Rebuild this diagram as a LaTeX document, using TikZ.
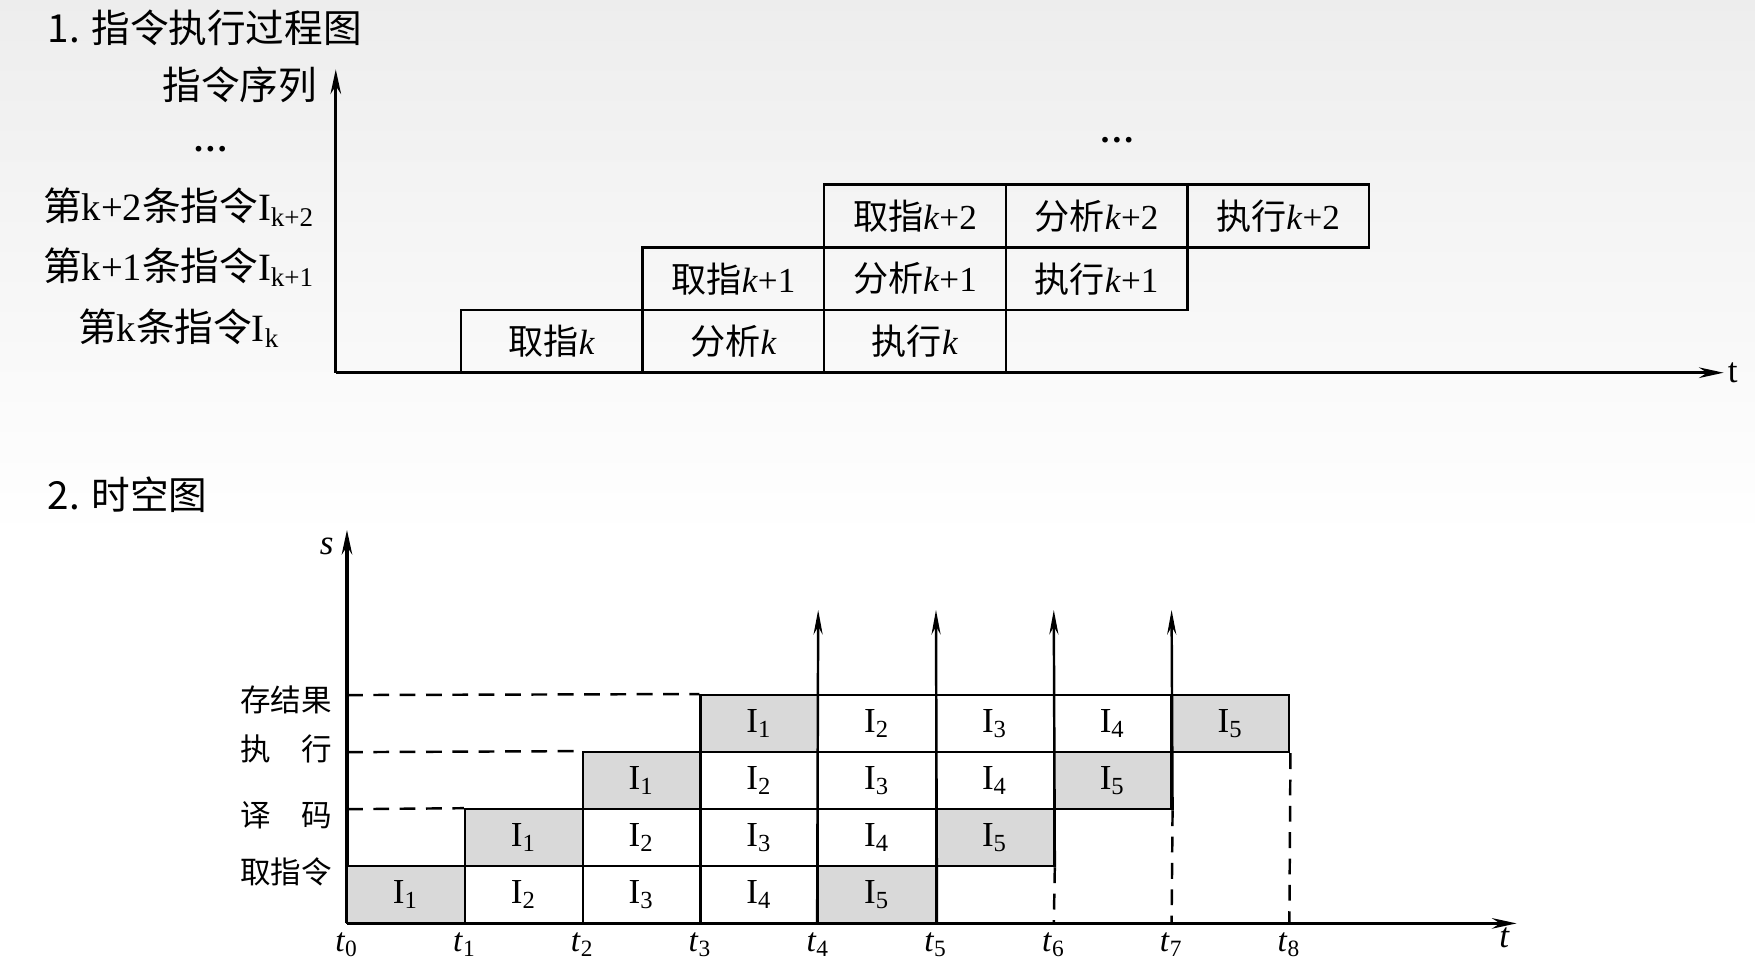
\documentclass[tikz,border=0pt]{standalone}
\usepackage{fontspec}
\setmainfont{Liberation Serif}
\newfontfamily\cjk{Noto Sans CJK SC}
\usetikzlibrary{arrows.meta}

\begin{document}
\begin{tikzpicture}[x=0.011193cm, y=-0.011193cm,
    upcell/.style={draw, line width=0.7pt, minimum width=1.816cm, minimum height=0.627cm, inner sep=0pt, font=\fontsize{10}{12}\selectfont},
    stcell/.style={draw, line width=0.6pt, minimum width=1.178cm, minimum height=0.571cm, inner sep=0pt, font=\fontsize{10}{12}\selectfont},
    busy/.style={stcell, fill=black!15},
    axisline/.style={line width=0.9pt, -{Stealth[length=7pt,width=3pt]}},
    upline/.style={line width=0.7pt, -{Stealth[length=7pt,width=2.6pt]}},
    guide/.style={line width=0.7pt, dash pattern=on 4.5pt off 3pt},
    headline/.style={font=\cjk\fontsize{11}{13}\selectfont, anchor=west, inner sep=0pt},
    rowlabel/.style={font=\fontsize{11}{13}\selectfont, anchor=base},
    stagelabel/.style={font=\cjk\fontsize{8.7}{10}\selectfont, anchor=east, inner sep=0pt},
    tlabel/.style={below=2pt, inner sep=0.5pt, font=\fontsize{9.5}{11}\selectfont},
    moredots/.style={font=\bfseries\fontsize{10}{12}\selectfont, anchor=base}]

    % background
    \fill[white] (0,0) rectangle (1568,859.5);
    \fill[top color=black!7, bottom color=white] (0,0) rectangle (1568,480);
    \useasboundingbox (0,0) rectangle (1568,859.5);

    % 1. instruction execution
    \node[headline] (head1) at (42,25) {1. 指令执行过程图};

    \coordinate (yo) at (300,333);
    \coordinate (ytop) at (300,62);
    \coordinate (xend) at (1540,333);
    \draw[axisline] (yo) -- (ytop);
    \draw[axisline] (yo) -- (xend);
    \node[anchor=west, inner sep=1pt] (tup) at (xend) {t};
    \node[font=\cjk\fontsize{11}{13}\selectfont, anchor=east, inner sep=0pt] (seq) at (284,76) {指令序列};

    \node[moredots] (dotsl) at (188,135) {…};
    \node[moredots] (dotsr) at (998,127) {…};

    \node[rowlabel] (ins2) at (160,197) {{\cjk 第}k+2{\cjk 条指令}I\textsubscript{k+2}};
    \node[rowlabel] (ins1) at (160,251) {{\cjk 第}k+1{\cjk 条指令}I\textsubscript{k+1}};
    \node[rowlabel] (ins0) at (160,305) {{\cjk 第}k{\cjk 条指令}I\textsubscript{k}};

    \node[upcell] (f0) at (493.1,305) {{\cjk 取指}\textit{k}};
    \node[upcell] (a0) at (655.3,305) {{\cjk 分析}\textit{k}};
    \node[upcell] (e0) at (817.5,305) {{\cjk 执行}\textit{k}};
    \node[upcell] (f1) at (655.3,249) {{\cjk 取指}\textit{k}+1};
    \node[upcell] (a1) at (817.5,249) {{\cjk 分析}\textit{k}+1};
    \node[upcell] (e1) at (979.7,249) {{\cjk 执行}\textit{k}+1};
    \node[upcell] (f2) at (817.5,193) {{\cjk 取指}\textit{k}+2};
    \node[upcell] (a2) at (979.7,193) {{\cjk 分析}\textit{k}+2};
    \node[upcell] (e2) at (1141.9,193) {{\cjk 执行}\textit{k}+2};

    % 2. space-time diagram
    \node[headline] (head2) at (42,442) {2. 时空图};

    \coordinate (so) at (310,825);
    \coordinate (stop) at (310,473.5);
    \coordinate (tend) at (1355,825);
    \draw[axisline] (so) -- (stop);
    \draw[axisline] (so) -- (tend);
    \node[anchor=east, font=\itshape\fontsize{10}{12}\selectfont, inner sep=2pt] (slab) at (305,488) {s};
    \node[font=\itshape\fontsize{10}{12}\selectfont] (tlow) at (1344,838) {t};

    \node[stagelabel] (wb) at (297,625) {存结果};
    \node[stagelabel] (ex) at (297,669) {执\quad 行};
    \node[stagelabel] (id) at (297,728) {译\quad 码};
    \node[stagelabel] (if) at (297,779) {取指令};

    \node[busy]   (if1) at (362.6,799.5) {I\textsubscript{1}};
    \node[stcell] (if2) at (467.9,799.5) {I\textsubscript{2}};
    \node[stcell] (if3) at (573.1,799.5) {I\textsubscript{3}};
    \node[stcell] (if4) at (678.4,799.5) {I\textsubscript{4}};
    \node[busy]   (if5) at (783.6,799.5) {I\textsubscript{5}};

    \node[busy]   (id1) at (467.9,748.5) {I\textsubscript{1}};
    \node[stcell] (id2) at (573.1,748.5) {I\textsubscript{2}};
    \node[stcell] (id3) at (678.4,748.5) {I\textsubscript{3}};
    \node[stcell] (id4) at (783.6,748.5) {I\textsubscript{4}};
    \node[busy]   (id5) at (888.9,748.5) {I\textsubscript{5}};

    \node[busy]   (ex1) at (573.1,697.5) {I\textsubscript{1}};
    \node[stcell] (ex2) at (678.4,697.5) {I\textsubscript{2}};
    \node[stcell] (ex3) at (783.6,697.5) {I\textsubscript{3}};
    \node[stcell] (ex4) at (888.9,697.5) {I\textsubscript{4}};
    \node[busy]   (ex5) at (994.1,697.5) {I\textsubscript{5}};

    \node[busy]   (wb1) at (678.4,646.5) {I\textsubscript{1}};
    \node[stcell] (wb2) at (783.6,646.5) {I\textsubscript{2}};
    \node[stcell] (wb3) at (888.9,646.5) {I\textsubscript{3}};
    \node[stcell] (wb4) at (994.1,646.5) {I\textsubscript{4}};
    \node[busy]   (wb5) at (1099.4,646.5) {I\textsubscript{5}};

    % dashed guides to the stage levels
    \coordinate (lv1) at (310,723);
    \coordinate (lv2) at (310,672);
    \coordinate (lv3) at (310,621);
    \draw[guide] (lv1) -- (id1.north west);
    \draw[guide] (lv2) -- (ex1.north west);
    \draw[guide] (lv3) -- (wb1.north west);

    % time ticks
    \coordinate (t0) at (310,825);
    \coordinate (t1) at (415.25,825);
    \coordinate (t2) at (520.5,825);
    \coordinate (t3) at (625.75,825);
    \coordinate (t4) at (731,825);
    \coordinate (t5) at (836.25,825);
    \coordinate (t6) at (941.5,825);
    \coordinate (t7) at (1046.75,825);
    \coordinate (t8) at (1152,825);
    \node[tlabel] (lt0) at (t0) {\textit{t}\textsubscript{0}};
    \node[tlabel] (lt1) at (t1) {\textit{t}\textsubscript{1}};
    \node[tlabel] (lt2) at (t2) {\textit{t}\textsubscript{2}};
    \node[tlabel] (lt3) at (t3) {\textit{t}\textsubscript{3}};
    \node[tlabel] (lt4) at (t4) {\textit{t}\textsubscript{4}};
    \node[tlabel] (lt5) at (t5) {\textit{t}\textsubscript{5}};
    \node[tlabel] (lt6) at (t6) {\textit{t}\textsubscript{6}};
    \node[tlabel] (lt7) at (t7) {\textit{t}\textsubscript{7}};
    \node[tlabel] (lt8) at (t8) {\textit{t}\textsubscript{8}};

    \draw[guide] (id5.south east) -- (t6);
    \draw[guide] (ex5.south east) -- (t7);
    \draw[guide] (wb5.south east) -- (t8);

    % results leaving the pipeline
    \coordinate (out4) at (731,545);
    \coordinate (out5) at (836.25,545);
    \coordinate (out6) at (941.5,545);
    \coordinate (out7) at (1046.75,545);
    \draw[upline] (if5.south west) -- (out4);
    \draw[upline] (if5.south east) -- (out5);
    \draw[upline] (id5.south east) -- (out6);
    \draw[upline] (ex5.south east) -- (out7);
\end{tikzpicture}
\end{document}
